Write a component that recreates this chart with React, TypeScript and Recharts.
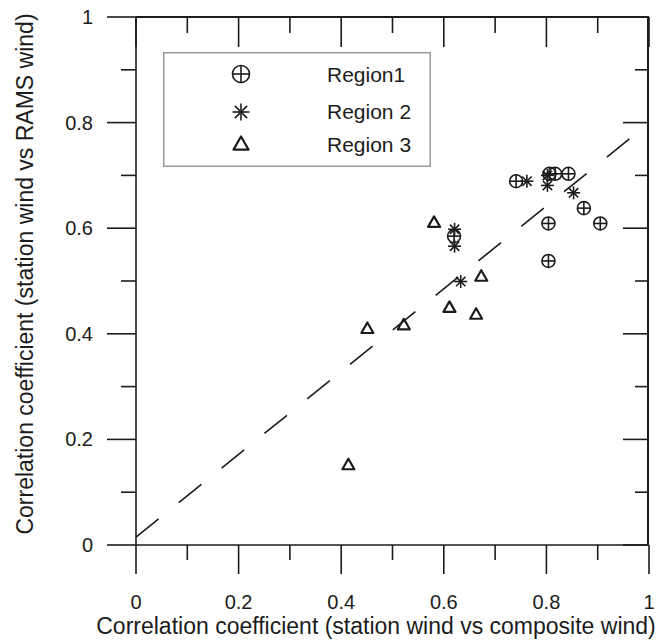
import React from "react";
import { ScatterChart, Scatter, XAxis, YAxis, ReferenceLine, Legend } from "recharts";

// values
const region1X = [0.741, 0.806, 0.817, 0.843, 0.873, 0.905, 0.804, 0.804, 0.62];
const region1Y = [0.689, 0.703, 0.703, 0.703, 0.638, 0.609, 0.609, 0.538, 0.585];

const region2X = [0.762, 0.802, 0.802, 0.853, 0.621, 0.621, 0.633];
const region2Y = [0.689, 0.7, 0.681, 0.667, 0.598, 0.566, 0.499];

const region3X = [0.581, 0.673, 0.611, 0.663, 0.522, 0.451, 0.414];
const region3Y = [0.611, 0.509, 0.45, 0.437, 0.417, 0.41, 0.152];

// dashed fit line end points
const fitX = [0, 0.967];
const fitY = [0.015, 0.773];

const ticks = [0, 0.1, 0.2, 0.3, 0.4, 0.5, 0.6, 0.7, 0.8, 0.9, 1];
const tickLabels = ["0", "", "0.2", "", "0.4", "", "0.6", "", "0.8", "", "1"];

const seriesNames = ["Region1", "Region 2", "Region 3"];

const INK = "#1c1c1c";
const FONT = "'Liberation Sans', Arial, Helvetica, sans-serif";
const MAJOR = 29;
const MINOR = 15;

// chart box
const W = 657;
const H = 643;
const M = { top: 17, right: 8, left: 0, bottom: 0 };
const Y_AXIS_W = 136;
const X_AXIS_H = 98;
const PLOT_W = W - M.left - M.right - Y_AXIS_W;
const PLOT_H = H - M.top - M.bottom - X_AXIS_H;

const toPoints = (xs: number[], ys: number[]) => xs.map((x, i) => ({ x, y: ys[i] }));

const tickIndex = (v: number) => ticks.findIndex((t) => Math.abs(t - v) < 1e-6);

// markers
const circlePlus = (cx: number, cy: number, r: number) => (
  <g stroke={INK} strokeWidth={1.6} fill="none">
    <circle cx={cx} cy={cy} r={r} />
    <line x1={cx - r} x2={cx + r} y1={cy} y2={cy} />
    <line x1={cx} x2={cx} y1={cy - r} y2={cy + r} />
  </g>
);

const asterisk = (cx: number, cy: number, r: number) => {
  const d = r * 0.72;
  return (
    <g stroke={INK} strokeWidth={1.6}>
      <line x1={cx} x2={cx} y1={cy - r} y2={cy + r} />
      <line x1={cx - r} x2={cx + r} y1={cy} y2={cy} />
      <line x1={cx - d} x2={cx + d} y1={cy - d} y2={cy + d} />
      <line x1={cx - d} x2={cx + d} y1={cy + d} y2={cy - d} />
    </g>
  );
};

const triangle = (cx: number, cy: number, r: number) => (
  <polygon
    points={`${cx},${cy - r} ${cx - r},${cy + r * 0.75} ${cx + r},${cy + r * 0.75}`}
    fill="none"
    stroke={INK}
    strokeWidth={2.2}
    strokeLinejoin="round"
  />
);

// bottom ticks (outward) and the mirrored inward ticks on the top frame
const BottomTick = (props: any) => {
  const { x, y, payload } = props;
  const i = tickIndex(payload.value);
  const major = i % 2 === 0;
  const top = y - PLOT_H;
  return (
    <g>
      <path d={`M${x},${y}V${y + (major ? MAJOR : MINOR)}`} stroke={INK} strokeWidth={1.6} />
      <path d={`M${x},${top}V${top + (major ? MAJOR + 1 : MINOR + 1)}`} stroke={INK} strokeWidth={1.6} />
      {major && (
        <text x={x} y={y + 64} textAnchor="middle" fontSize={20} fontFamily={FONT} fill={INK}>
          {tickLabels[i]}
        </text>
      )}
    </g>
  );
};

// left ticks (outward) and the mirrored inward ticks on the right frame
const LeftTick = (props: any) => {
  const { x, y, payload } = props;
  const i = tickIndex(payload.value);
  const major = i % 2 === 0;
  const right = x + PLOT_W;
  return (
    <g>
      <path d={`M${x},${y}H${x - (major ? MAJOR : MINOR)}`} stroke={INK} strokeWidth={1.6} />
      <path d={`M${right},${y}H${right - (major ? MAJOR - 3 : MINOR - 1)}`} stroke={INK} strokeWidth={1.6} />
      {major && (
        <text x={x - 43} y={y + 7} textAnchor="end" fontSize={20} fontFamily={FONT} fill={INK}>
          {tickLabels[i]}
        </text>
      )}
    </g>
  );
};

const LegendBox = () => {
  const rows = [22, 60, 92];
  const textY = [30, 67, 100];
  const markers = [
    circlePlus(78, rows[0], 8.5),
    asterisk(78, rows[1], 8.5),
    triangle(78, rows[2], 7.5),
  ];
  return (
    <svg width={268} height={115} style={{ display: "block" }}>
      <rect x={0.75} y={0.75} width={266.5} height={113.5} fill="#fff" stroke="#9a9a9a" strokeWidth={1.5} />
      {seriesNames.map((name, i) => (
        <g key={name}>
          {markers[i]}
          <text x={164} y={textY[i]} fontSize={21} fontFamily={FONT} fill={INK}>
            {name}
          </text>
        </g>
      ))}
    </svg>
  );
};

export default function App() {
  return (
    <div style={{ position: "absolute", left: 0, top: 0, width: W, height: H, background: "#fff" }}>
      <ScatterChart width={W} height={H} margin={M}>
        <XAxis
          dataKey="x"
          type="number"
          domain={[0, 1]}
          ticks={ticks}
          interval={0}
          height={X_AXIS_H}
          tickSize={0}
          tickMargin={0}
          tick={<BottomTick />}
          axisLine={{ stroke: INK, strokeWidth: 1.6 }}
          label={{
            content: () => (
              <text x={376} y={634} textAnchor="middle" fontSize={23} fontFamily={FONT} fill={INK}>
                Correlation coefficient (station wind vs composite wind)
              </text>
            ),
          }}
        />
        <YAxis
          dataKey="y"
          type="number"
          domain={[0, 1]}
          ticks={ticks}
          interval={0}
          width={Y_AXIS_W}
          tickSize={0}
          tickMargin={0}
          tick={<LeftTick />}
          axisLine={{ stroke: INK, strokeWidth: 1.6 }}
          label={{
            content: () => (
              <text
                x={33}
                y={274}
                transform="rotate(-90 33 274)"
                textAnchor="middle"
                fontSize={23}
                fontFamily={FONT}
                fill={INK}
              >
                Correlation coefficient (station wind vs RAMS wind)
              </text>
            ),
          }}
        />
        <ReferenceLine
          segment={[
            { x: fitX[0], y: fitY[0] },
            { x: fitX[1], y: fitY[1] },
          ]}
          stroke={INK}
          strokeWidth={1.6}
          strokeDasharray="29 26"
        />
        <Scatter
          name={seriesNames[0]}
          data={toPoints(region1X, region1Y)}
          isAnimationActive={false}
          shape={(p: any) => circlePlus(p.cx, p.cy, 6.5)}
        />
        <Scatter
          name={seriesNames[1]}
          data={toPoints(region2X, region2Y)}
          isAnimationActive={false}
          shape={(p: any) => asterisk(p.cx, p.cy, 6.5)}
        />
        <Scatter
          name={seriesNames[2]}
          data={toPoints(region3X, region3Y)}
          isAnimationActive={false}
          shape={(p: any) => triangle(p.cx, p.cy, 6)}
        />
        <Legend
          layout="horizontal"
          verticalAlign="middle"
          align="center"
          content={() => <LegendBox />}
          wrapperStyle={{ left: 163, top: 52, width: 268, height: 115 }}
        />
      </ScatterChart>
      {/* top and right frame of the plot box */}
      <div
        style={{
          position: "absolute",
          left: Y_AXIS_W,
          top: M.top - 1,
          width: PLOT_W,
          height: PLOT_H,
          borderTop: `2px solid ${INK}`,
          borderRight: `2px solid ${INK}`,
          boxSizing: "border-box",
          pointerEvents: "none",
        }}
      />
    </div>
  );
}
